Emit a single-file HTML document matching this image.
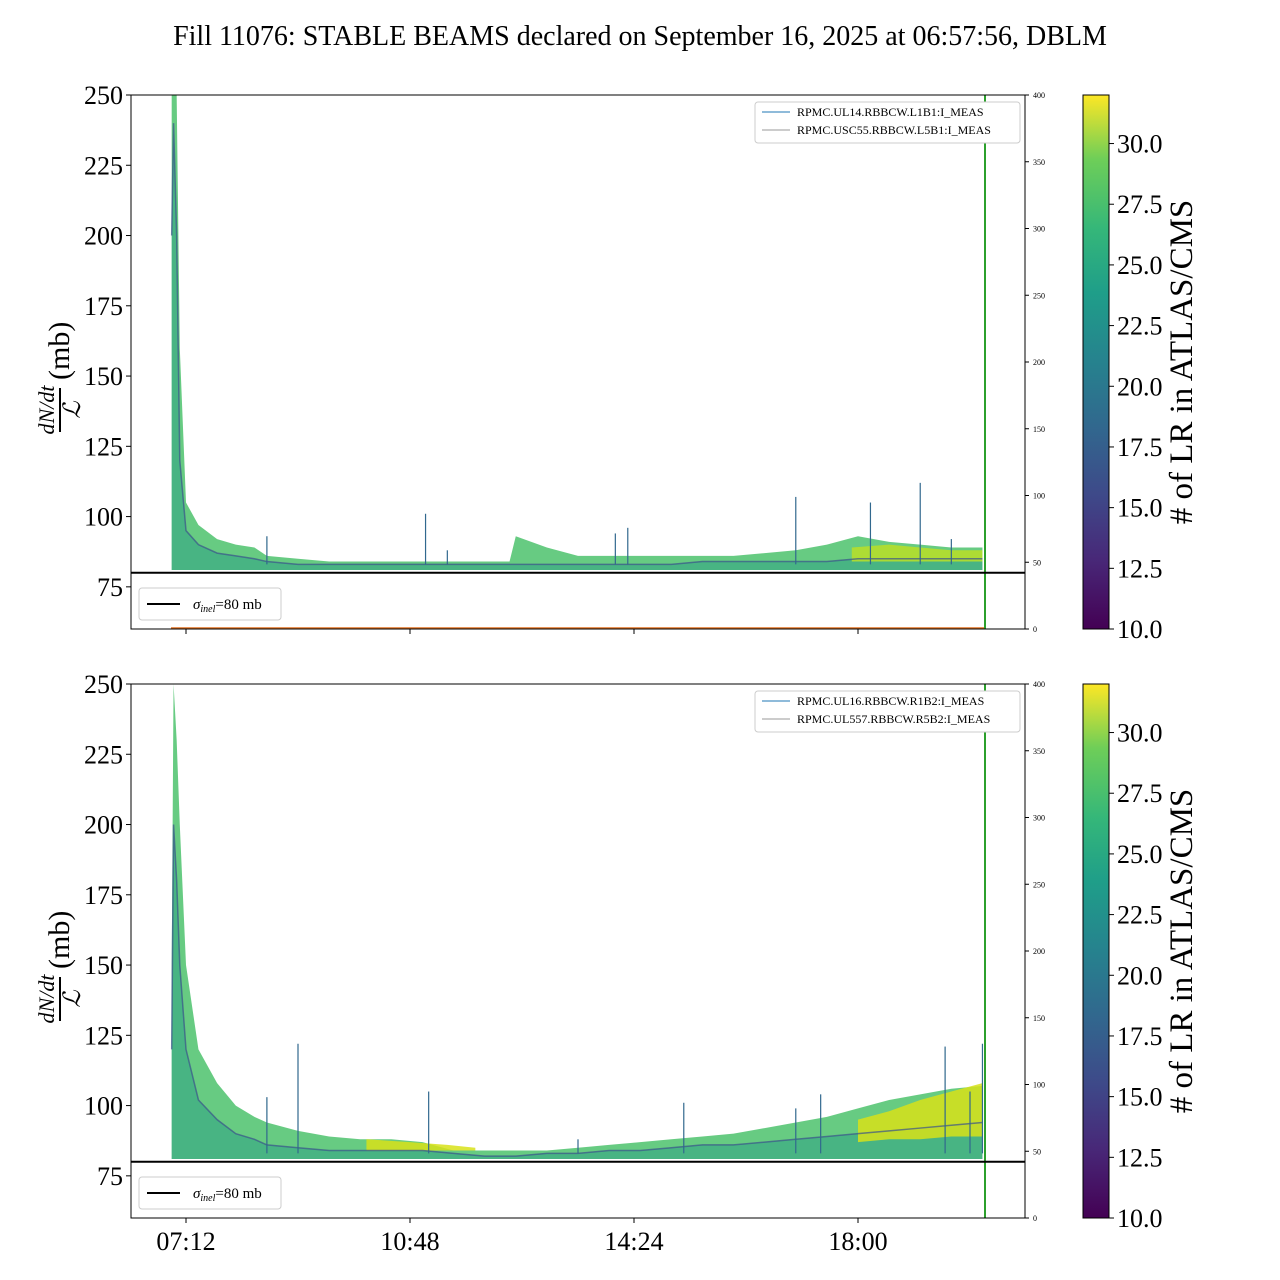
<!DOCTYPE html>
<html><head><meta charset="utf-8"><style>
body{margin:0;background:#fff;}
svg{display:block;font-family:"Liberation Serif",serif;}
</style></head><body>
<svg id="chart" width="1280" height="1280" viewBox="0 0 1280 1280" xmlns="http://www.w3.org/2000/svg">
<defs>
<linearGradient id="vir" x1="0" y1="1" x2="0" y2="0">
<stop offset="0" stop-color="#440154"/><stop offset="0.13" stop-color="#482878"/><stop offset="0.25" stop-color="#3e4989"/><stop offset="0.38" stop-color="#31688e"/><stop offset="0.5" stop-color="#26828e"/><stop offset="0.63" stop-color="#1f9e89"/><stop offset="0.75" stop-color="#35b779"/><stop offset="0.88" stop-color="#6ece58"/><stop offset="1" stop-color="#fde725"/>
</linearGradient>
</defs>
<text x="640" y="45" font-size="28" text-anchor="middle">Fill 11076: STABLE BEAMS declared on September 16, 2025 at 06:57:56, DBLM</text>
<g id="p0"></g><g id="p1"></g>
</svg>
<script>
const times = [6.97,7.0,7.05,7.1,7.2,7.4,7.7,8.0,8.3,8.5,9.0,9.5,10.0,10.5,11.0,11.5,12.0,12.4,12.5,13.0,13.5,14.0,14.5,15.0,15.5,16.0,16.5,17.0,17.5,18.0,18.5,19.0,19.5,20.0];
const topUpper = [250,250,250,160,105,97,92,90,89,86,85,84,84,84,84,84,84,84,93,89,86,86,86,86,86,86,87,88,90,93,91,90,89,89];
const topMid   = [200,240,200,120,95,90,87,86,85,84,83,83,83,83,83,83,83,83,83,83,83,83,83,83,84,84,84,84,84,85,85,85,85,85];
const topLower = [81,81,81,81,81,81,81,81,81,81,81,81,81,81,81,81,81,81,81,81,81,81,81,81,81,81,81,81,81,81,81,81,81,81];
const botUpper = [150,250,230,200,150,120,108,100,96,94,91,89,88,88,87,84,84,84,84,84,85,86,87,88,89,90,92,94,96,99,102,104,106,107];
const botMid   = [120,200,180,150,120,102,95,90,88,86,85,84,84,84,84,83,82,82,82,83,83,84,84,85,86,86,87,88,89,90,91,92,93,94];
const botLower = [81,81,81,81,81,81,81,81,81,81,81,81,81,81,81,81,81,81,81,81,81,81,81,81,81,81,81,81,81,81,81,81,81,81];
const topYellowT = [17.9,18.5,19.0,19.5,20.0];
const topYellowU = [89,90,89,88,88];
const topYellowL = [84,84,84,84,84];
const botYellowT = [10.1,10.8,11.4,11.85,17.5,18.0,18.5,19.0,19.5,20.0];
const botYellowU = [88,87,86,85,null,95,98,102,105,108];
const botYellowL = [84,84,84,84,null,87,88,88,89,89];
const topSpikes = [[8.5,93],[11.05,101],[11.4,88],[14.1,94],[14.3,96],[17.0,107],[18.2,105],[19.0,112],[19.5,92]];
const botSpikes = [[8.5,103],[9.0,122],[11.1,105],[13.5,88],[15.2,101],[17.0,99],[17.4,104],[19.4,121],[19.8,105],[20.0,122]];
const yTicks = [75,100,125,150,175,200,225,250];
const rTicks = [0,50,100,150,200,250,300,350,400];
const cTicks = [10.0,12.5,15.0,17.5,20.0,22.5,25.0,27.5,30.0];
const xTicks = [7.2,10.8,14.4,18.0];
const xTickLabels = ["07:12","10:48","14:24","18:00"];
const legends = [["RPMC.UL14.RBBCW.L1B1:I_MEAS","RPMC.USC55.RBBCW.L5B1:I_MEAS"],["RPMC.UL16.RBBCW.R1B2:I_MEAS","RPMC.UL557.RBBCW.R5B2:I_MEAS"]];
const NS="http://www.w3.org/2000/svg";
function mk(p,tag,a,txt){const e=document.createElementNS(NS,tag);for(const k in a)e.setAttribute(k,a[k]);if(txt!==undefined)e.textContent=txt;p.appendChild(e);return e;}
const L=131,R=1025;
const xS=t=>186+(t-7.2)/3.6*224;
function band(g,ys,T,U,Lo,fill,op,name){
  let segs=[[]];T.forEach((t,i)=>{if(U[i]===null){segs.push([]);}else segs[segs.length-1].push(i);});
  segs.forEach(s=>{if(s.length<2)return;
    let pts=s.map(i=>xS(T[i])+","+ys(U[i])).concat(s.slice().reverse().map(i=>xS(T[i])+","+ys(Lo[i])));
    const e=mk(g,"polygon",{points:pts.join(" "),fill:fill,"fill-opacity":op});
    
    
  });
}
function panel(k,top){
  const g=document.getElementById("p"+k);
  const B=top+534;
  const ys=v=>top+(250-v)*534/190;
  const U=k?botUpper:topUpper, M=k?botMid:topMid, Lo=k?botLower:topLower;
  band(g,ys,times,U,Lo,"#4cc26c",0.85,"green-band");
  band(g,ys,times,M,Lo,"#2a9d84",0.5,"teal-band");
  if(k===0)band(g,ys,topYellowT,topYellowU,topYellowL,"#b5de2b",0.9,"yellow-band");
  else band(g,ys,botYellowT,botYellowU,botYellowL,"#d8e219",0.85,"yellow-band");
  const ml=mk(g,"polyline",{points:times.map((t,i)=>xS(t)+","+ys(M[i])).join(" "),fill:"none",stroke:"#3b528b","stroke-width":1.5,"stroke-opacity":0.7});
  
  
  (k?botSpikes:topSpikes).forEach(s=>{
    const e=mk(g,"line",{x1:xS(s[0]),x2:xS(s[0]),y1:ys(83),y2:ys(s[1]),stroke:"#31688e","stroke-width":1.2});
    
    
  });
  if(k===0) mk(g,"line",{x1:171,x2:985,y1:B-1,y2:B-1,stroke:"#e07020","stroke-width":1.5,});
  mk(g,"line",{x1:985,x2:985,y1:top,y2:B,stroke:"#2ca02c","stroke-width":2,});
  mk(g,"line",{x1:L,x2:R,y1:ys(80),y2:ys(80),stroke:"#000","stroke-width":2,});
  mk(g,"rect",{x:L,y:top,width:R-L,height:534,fill:"none",stroke:"#000","stroke-width":1,});
  yTicks.forEach(v=>{mk(g,"line",{x1:L-5,x2:L,y1:ys(v),y2:ys(v),stroke:"#000"});
    const t=mk(g,"text",{x:L-8,y:ys(v)+9,"font-size":26,"text-anchor":"end"},v);
    });
  rTicks.forEach(v=>{const y=B-v*534/400;mk(g,"line",{x1:R,x2:R+4,y1:y,y2:y,stroke:"#000"});
    const t=mk(g,"text",{x:R+8,y:y+3,"font-size":8},v);
    });
  xTicks.forEach((v,i)=>{mk(g,"line",{x1:xS(v),x2:xS(v),y1:B,y2:B+5,stroke:"#000"});
    if(k===1){const t=mk(g,"text",{x:xS(v),y:B+32,"font-size":26,"text-anchor":"middle"},xTickLabels[i]);
    }});
  const yl=mk(g,"g",{transform:`translate(60,${top+267}) rotate(-90)`,});
  mk(yl,"text",{x:-48,y:-6,"font-size":22,"font-style":"italic","text-anchor":"middle"},"dN/dt");
  mk(yl,"line",{x1:-70,x2:-26,y1:0,y2:0,stroke:"#000","stroke-width":2});
  mk(yl,"text",{x:-48,y:20,"font-size":24,"font-style":"italic","text-anchor":"middle"},"ℒ");
  mk(yl,"text",{x:-18,y:9,"font-size":30},"(mb)");
  const lg=mk(g,"g",{});
  mk(lg,"rect",{x:755,y:top+7,width:265,height:41,rx:3,fill:"#fff",stroke:"#ccc"});
  mk(lg,"line",{x1:762,x2:790,y1:top+17,y2:top+17,stroke:"#1f77b4"});
  mk(lg,"line",{x1:762,x2:790,y1:top+35,y2:top+35,stroke:"#999"});
  mk(lg,"text",{x:797,y:top+21,"font-size":12},legends[k][0]);
  mk(lg,"text",{x:797,y:top+39,"font-size":12},legends[k][1]);
  const sl=mk(g,"g",{});
  mk(sl,"rect",{x:139,y:top+493,width:142,height:32,rx:3,fill:"#fff",stroke:"#ccc"});
  mk(sl,"line",{x1:147,x2:180,y1:top+509,y2:top+509,stroke:"#000","stroke-width":2});
  const st=mk(sl,"text",{x:193,y:top+514,"font-size":15});
  mk(st,"tspan",{"font-style":"italic"},"σ");mk(st,"tspan",{"font-style":"italic","font-size":10,dy:3},"inel");mk(st,"tspan",{dy:-3},"=80 mb");
  mk(g,"rect",{x:1083,y:top,width:26,height:534,fill:"url(#vir)",stroke:"#000",});
  cTicks.forEach(v=>{const y=B-(v-10)/22*534;mk(g,"line",{x1:1109,x2:1114,y1:y,y2:y,stroke:"#000"});
    const t=mk(g,"text",{x:1117,y:y+9,"font-size":26},v.toFixed(1));
    });
  mk(g,"text",{transform:`translate(1192,${top+267}) rotate(-90)`,"font-size":33,"text-anchor":"middle",},"# of LR in ATLAS/CMS");
}
panel(0,95);panel(1,684);
</script>
</body></html>
